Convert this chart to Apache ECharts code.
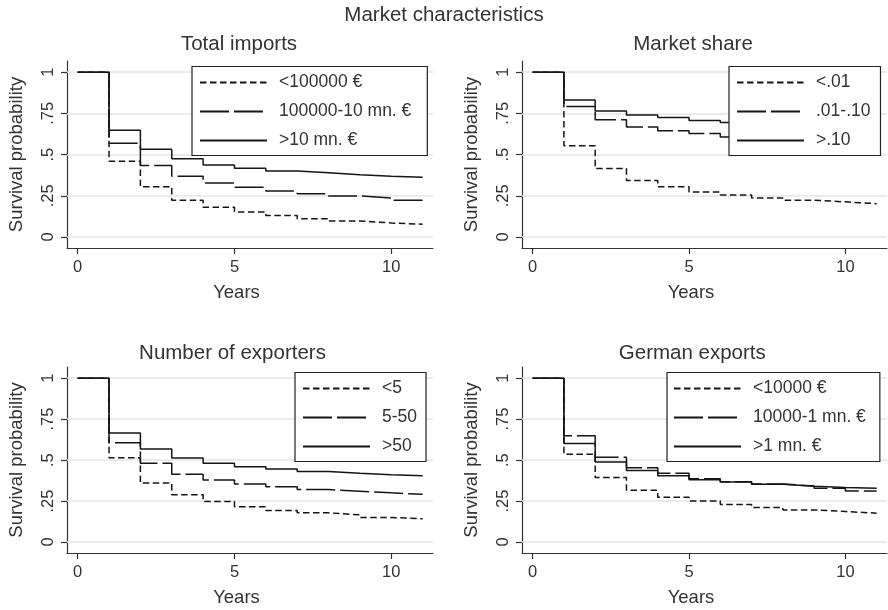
<!DOCTYPE html>
<html>
<head>
<meta charset="utf-8">
<script src="https://cdn.jsdelivr.net/npm/echarts@6/dist/echarts.min.js"></script>
<style>html,body{margin:0;padding:0;background:#fff;}#c{width:888px;height:610px;}</style>
</head>
<body>
<div id="c"></div>
<script>
// ---- data ----
const years = [0, 1, 2, 3, 4, 5, 6, 7, 8, 9, 10, 11];
const xTicks = [0, 5, 10];
const yTicks = [0, 0.25, 0.5, 0.75, 1];
const yTickLabels = ['0', '.25', '.5', '.75', '1'];

const panelTitles = ['Total imports', 'Market share', 'Number of exporters', 'German exports'];
const mainTitle = 'Market characteristics';

const impNames = ['<100000 €', '100000-10 mn. €', '>10 mn. €'];
const impLo  = [1, 0.460, 0.304, 0.223, 0.180, 0.152, 0.130, 0.111, 0.097, 0.085, 0.077, 0.077];
const impMid = [1, 0.569, 0.433, 0.368, 0.328, 0.302, 0.279, 0.263, 0.249, 0.237, 0.223, 0.223];
const impHi  = [1, 0.648, 0.532, 0.474, 0.437, 0.417, 0.400, 0.389, 0.377, 0.368, 0.362, 0.362];

const shNames = ['<.01', '.01-.10', '>.10'];
const shLo  = [1, 0.553, 0.415, 0.342, 0.304, 0.273, 0.255, 0.237, 0.223, 0.213, 0.202, 0.202];
const shMid = [1, 0.792, 0.711, 0.668, 0.644, 0.628, 0.607, 0.595, 0.585, 0.577, 0.570, 0.570];
const shHi  = [1, 0.832, 0.765, 0.741, 0.725, 0.707, 0.694, 0.685, 0.678, 0.672, 0.667, 0.667];

const exNames = ['<5', '5-50', '>50'];
const exLo  = [1, 0.514, 0.360, 0.289, 0.247, 0.215, 0.192, 0.178, 0.166, 0.150, 0.142, 0.142];
const exMid = [1, 0.605, 0.480, 0.413, 0.379, 0.354, 0.338, 0.320, 0.310, 0.300, 0.291, 0.291];
const exHi  = [1, 0.666, 0.567, 0.512, 0.480, 0.460, 0.445, 0.431, 0.419, 0.411, 0.405, 0.405];

const geNames = ['<10000 €', '10000-1 mn. €', '>1 mn. €'];
const geLo  = [1, 0.535, 0.393, 0.316, 0.273, 0.251, 0.229, 0.211, 0.196, 0.186, 0.176, 0.176];
const geMid = [1, 0.648, 0.518, 0.453, 0.419, 0.386, 0.368, 0.354, 0.342, 0.328, 0.312, 0.312];
const geHi  = [1, 0.601, 0.488, 0.437, 0.405, 0.380, 0.366, 0.352, 0.340, 0.332, 0.328, 0.328];

// ---- styling / layout ----
const FONT = '"Liberation Sans", Arial, Helvetica, sans-serif';
const TXT = '#333';
const LINE = '#151515';
const DASH = { short: [6.5, 3.5], long: [29, 5], solid: 'solid' };
const styles = ['short', 'long', 'solid'];

const grids = [
  { left: 67, top: 61, width: 366, height: 187 },
  { left: 522, top: 61, width: 365, height: 187 },
  { left: 67, top: 367, width: 366, height: 186 },
  { left: 522, top: 367, width: 365, height: 186 }
];
const titlePos = [
  { x: 239, y: 34 }, { x: 693, y: 34 }, { x: 232.5, y: 343 }, { x: 692.3, y: 343 }
];
const legendPos = [
  { left: 192, top: 66.5, pad: [7, 16, 6, 7] },
  { left: 729, top: 66.5, pad: [7, 10, 6, 7] },
  { left: 295, top: 372.5, pad: [7, 9, 6, 7] },
  { left: 667, top: 372.5, pad: [7, 14, 6, 6] }
];
const panels = [
  { names: impNames, data: [impLo, impMid, impHi] },
  { names: shNames, data: [shLo, shMid, shHi] },
  { names: exNames, data: [exLo, exMid, exHi] },
  { names: geNames, data: [geLo, geMid, geHi] }
];

const xAxes = [], yAxes = [], series = [], legends = [];
const titles = [{
  text: mainTitle, left: 444, top: 5, textAlign: 'center', padding: 0,
  textStyle: { fontFamily: FONT, fontSize: 20.5, fontWeight: 'normal', color: TXT }
}];

panels.forEach((p, gi) => {
  titles.push({
    text: panelTitles[gi], left: titlePos[gi].x, top: titlePos[gi].y, textAlign: 'center', padding: 0,
    textStyle: { fontFamily: FONT, fontSize: 20.5, fontWeight: 'normal', color: TXT }
  });
  xAxes.push({
    gridIndex: gi, type: 'value', min: -0.34, max: 11.33,
    name: 'Years', nameLocation: 'middle', nameGap: 35,
    nameTextStyle: { fontFamily: FONT, fontSize: 18.5, color: TXT, padding: [0, 27, 0, 0] },
    axisLine: { show: true, onZero: false, lineStyle: { color: '#333', width: 1.2 } },
    axisTick: { show: true, length: 6, customValues: xTicks, lineStyle: { color: '#333', width: 1.2 } },
    axisLabel: { customValues: xTicks, margin: 11, fontFamily: FONT, fontSize: 16.5, color: TXT },
    splitLine: { show: false }
  });
  yAxes.push({
    gridIndex: gi, type: 'value', min: -0.067, max: 1.068,
    name: 'Survival probability', nameLocation: 'middle', nameGap: 41, nameRotate: 90,
    nameTextStyle: { fontFamily: FONT, fontSize: 18.5, color: TXT },
    axisLine: { show: true, onZero: false, lineStyle: { color: '#333', width: 1.2 } },
    axisTick: { show: true, length: 6, customValues: yTicks, lineStyle: { color: '#333', width: 1.2 } },
    axisLabel: {
      customValues: yTicks, rotate: 90, margin: 10, fontFamily: FONT, fontSize: 16.5, color: TXT,
      formatter: v => { const i = yTicks.findIndex(t => Math.abs(t - v) < 1e-9); return i >= 0 ? yTickLabels[i] : ''; }
    },
    splitLine: { show: false }
  });
  // gridlines
  series.push({
    type: 'line', xAxisIndex: gi, yAxisIndex: gi, data: [], z: 1, silent: true,
    markLine: {
      z: 1, silent: true, symbol: 'none', animation: false, label: { show: false },
      lineStyle: { color: '#e4e4e4', width: 1.5, type: 'solid' },
      emphasis: { disabled: true },
      data: yTicks.map(v => ({ yAxis: v }))
    }
  });
  p.names.forEach((nm, si) => {
    series.push({
      type: 'line', name: nm, xAxisIndex: gi, yAxisIndex: gi,
      data: years.map((x, i) => [x, p.data[si][i]]),
      step: 'end', symbol: 'none', showSymbol: false, z: 3,
      lineStyle: { color: LINE, width: 1.5, type: DASH[styles[si]] },
      itemStyle: { color: LINE },
      emphasis: { disabled: true }, animation: false
    });
  });
  legends.push({
    data: p.names, orient: 'vertical', left: legendPos[gi].left, top: legendPos[gi].top,
    padding: legendPos[gi].pad, itemGap: 11, itemWidth: 67, itemHeight: 14,
    backgroundColor: '#fff', borderColor: '#222', borderWidth: 1.2, selectedMode: false,
    itemStyle: { opacity: 0, color: 'rgba(0,0,0,0)', borderWidth: 0 },
    textStyle: { fontFamily: FONT, fontSize: 17.5, color: TXT, padding: [0, 0, 0, 7] },
    z: 10
  });
});

const chart = echarts.init(document.getElementById('c'), null, { renderer: 'canvas' });
chart.setOption({
  backgroundColor: '#fff',
  animation: false,
  title: titles,
  legend: legends,
  grid: grids,
  xAxis: xAxes,
  yAxis: yAxes,
  series: series
});
</script>
</body>
</html>
